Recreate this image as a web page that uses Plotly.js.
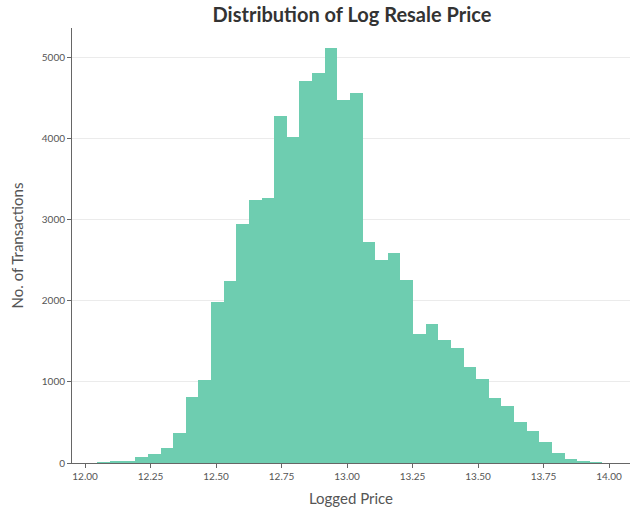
<!DOCTYPE html>
<html>
<head>
<script src="https://cdn.plot.ly/plotly-3.0.1.min.js"></script>
<style>body{margin:0;background:#fff}</style>
</head>
<body>
<div id="chart" style="width:640px;height:516px"></div>
<script>
// histogram of log resale price, counts
var binStart = 12.047;
var binWidth = 0.0482;
var counts = [10, 15, 30, 78, 115, 190, 375, 820, 1030, 1990, 2250,
  2950, 3250, 3270, 4280, 4020, 4720, 4820, 5120, 4480, 4570,
  2730, 2510, 2590, 2260, 1595, 1716, 1518, 1420, 1185, 1037,
  802, 704, 506, 395, 259, 123, 49, 25, 10];
var centers = counts.map(function (c, i) { return binStart + binWidth * (i + 0.5); });

var trace = {
  x: centers,
  y: counts,
  type: "bar",
  width: binWidth,
  marker: { color: "#6ecdb0", line: { width: 0 } },
  hoverinfo: "x+y"
};

var layout = {
  width: 640,
  height: 516,
  margin: { l: 72, r: 10, t: 28, b: 53 },
  paper_bgcolor: "#fff",
  plot_bgcolor: "#fff",
  bargap: 0,
  font: { family: "Lato, sans-serif", color: "#555" },
  title: {
    text: "<b>Distribution of Log Resale Price</b>",
    x: 0.55, xanchor: "center", y: 0.985, yanchor: "top",
    font: { size: 20, color: "#333", family: "Lato, sans-serif" }
  },
  xaxis: {
    range: [11.95, 14.08],
    tickvals: [12, 12.25, 12.5, 12.75, 13, 13.25, 13.5, 13.75, 14],
    ticktext: ["12.00", "12.25", "12.50", "12.75", "13.00", "13.25", "13.50", "13.75", "14.00"],
    ticks: "outside", ticklen: 4, tickcolor: "#666",
    showline: true, linecolor: "#666", showgrid: false, zeroline: false,
    tickfont: { size: 10, color: "#555" },
    title: { text: "Logged Price", font: { size: 15, color: "#555" }, standoff: 12 }
  },
  yaxis: {
    range: [0, 5370],
    tickvals: [0, 1000, 2000, 3000, 4000, 5000],
    ticks: "outside", ticklen: 4, tickcolor: "#666",
    showline: true, linecolor: "#666", gridcolor: "#ebebeb", zeroline: false,
    tickfont: { size: 10, color: "#555" },
    title: { text: "No. of Transactions", font: { size: 15, color: "#555" }, standoff: 14 }
  },
  showlegend: false
};

Plotly.newPlot("chart", [trace], layout, { displayModeBar: false });
</script>
</body>
</html>
